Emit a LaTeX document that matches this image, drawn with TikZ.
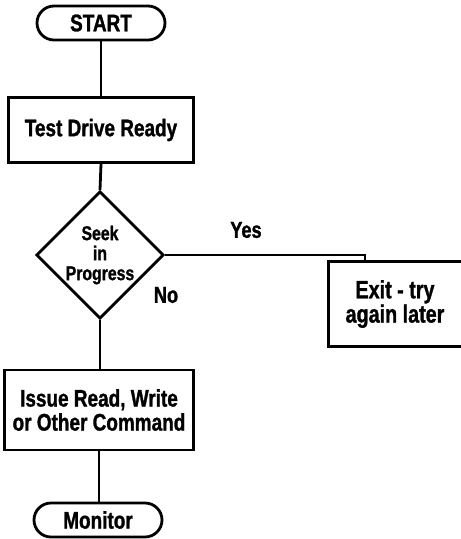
\documentclass[tikz,border=0pt]{standalone}
\usepackage{fontspec}
\newfontfamily\flowfont[FakeStretch=0.79,BoldFeatures={FakeBold=1.2}]{Liberation Sans}
\usetikzlibrary{shapes.geometric}
\begin{document}
\begin{tikzpicture}[x=1pt,y=-1pt,line width=2.8pt,
  every node/.style={font=\flowfont\bfseries\fontsize{24}{24}\selectfont,align=center,inner sep=0pt},
  term/.style={draw,rectangle,rounded corners=17pt,minimum width=128pt,minimum height=34pt},
  procbox/.style={draw,rectangle},
  decide/.style={draw,diamond,aspect=1,minimum width=122pt,minimum height=122pt,
    font=\flowfont\bfseries\fontsize{20}{20}\selectfont},
  lbl/.style={font=\flowfont\bfseries\fontsize{23}{23}\selectfont},
  conn/.style={line width=2.8pt}]
\useasboundingbox (0,0) rectangle (461,539);
\node[term] (start) at (101,23) {START};
\node[procbox,minimum width=185pt,minimum height=65pt] (test) at (101,130) {Test Drive Ready};
\node[decide] (dec) at (100,255) {Seek\\in\\Progress};
\node[procbox,minimum width=189pt,minimum height=80pt] (issue) at (99,410) {Issue Read, Write\\or Other Command};
\node[term] (mon) at (98,520) {Monitor};
\node[minimum width=130pt,minimum height=82pt,font=\flowfont\bfseries\fontsize{25}{21}\selectfont] (exit) at (395,304) {Exit - try\\again later};
\draw ([xshift=12pt]exit.north east) -- (exit.north west) -- (exit.south west) -- ([xshift=12pt]exit.south east);
\node[lbl] (yes) at (246,230) {Yes};
\node[lbl] (no) at (166,295) {No};
\coordinate (drop) at (365,255);
\draw[conn] (start.south) -- (start.south |- test.north);
\draw[conn] (test.south) -- (dec.north);
\draw[conn] (dec.south) -- (dec.south |- issue.north);
\draw[conn] (issue.south) -- (issue.south |- mon.north);
\draw[conn] (dec.east) -- (drop) -- (drop |- exit.north);
\end{tikzpicture}
\end{document}
